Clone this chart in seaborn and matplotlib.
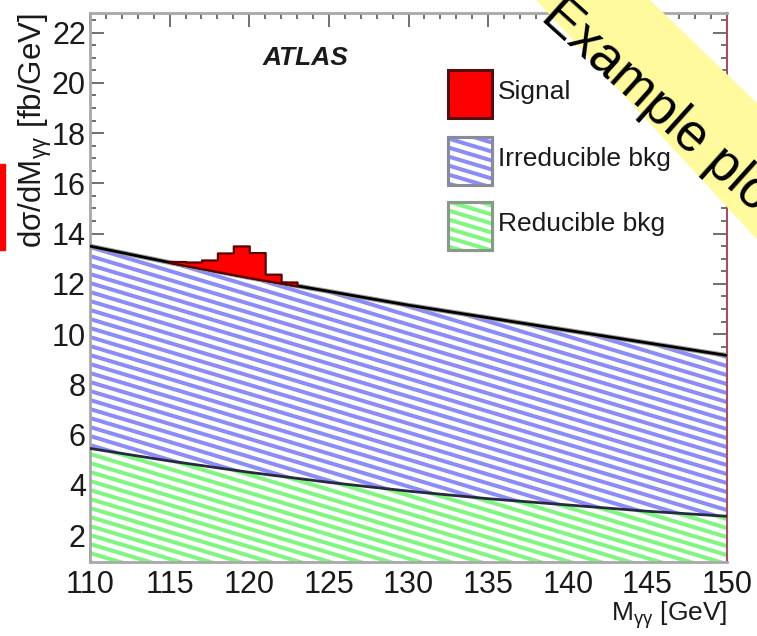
import numpy as np
import pandas as pd
import matplotlib
matplotlib.use("Agg")
import matplotlib.pyplot as plt
import seaborn as sns
from matplotlib.collections import LineCollection
from matplotlib.patches import Rectangle, Polygon
from matplotlib.ticker import MultipleLocator
from matplotlib import font_manager as fm
import matplotlib.patheffects as pe

# ---------------- data ----------------
mass = [110, 115, 120, 125, 130, 135, 140, 145, 150]
reducible = [5.45, 4.95, 4.50, 4.10, 3.75, 3.45, 3.20, 2.95, 2.75]
irreducible = [8.05, 7.90, 7.75, 7.60, 7.40, 7.20, 6.95, 6.70, 6.40]
sig_edges = [115, 116, 117, 118, 119, 120, 121, 122, 123]
signal = [0.10, 0.20, 0.40, 0.80, 1.20, 1.05, 0.30, 0.10]
x_ticks = [110, 115, 120, 125, 130, 135, 140, 145, 150]
y_ticks = [2, 4, 6, 8, 10, 12, 14, 16, 18, 20, 22]
legend_labels = ["Signal", "Irreducible bkg", "Reducible bkg"]

# ---------------- style ----------------
sns.set_theme(style="ticks")
names = {f.name for f in fm.fontManager.ttflist}
NARROW = "Liberation Sans Narrow" if "Liberation Sans Narrow" in names else "Liberation Sans"
REG = "Liberation Sans"
plt.rcParams["font.family"] = [REG, "DejaVu Sans"]
plt.rcParams["mathtext.fontset"] = "custom"
plt.rcParams["mathtext.rm"] = REG
plt.rcParams["mathtext.it"] = REG + ":italic"

df = pd.DataFrame({"mass": mass, "red": reducible, "irr": irreducible})
df["total"] = df["red"] + df["irr"]

FW, FH = 757.0, 636.0
fig = plt.figure(figsize=(7.57, 6.36), dpi=100)
fig.patch.set_facecolor("white")
ax = fig.add_axes([90 / FW, 1 - 562 / FH, 637 / FW, 549 / FH])
ax.set_facecolor("white")

W, H = 637.0, 549.0


def add_stripes(ax, color, clip, clip_tr=None, period=9.0, slope=0.30, lw_px=4.0, z=2):
    segs = []
    c = -2 * H
    while c < H + slope * W + 2 * H:
        segs.append([(0.0, c / H), (1.0, (c - slope * W) / H)])
        c += period
    lc = LineCollection(segs, colors=color, linewidths=lw_px * 0.72,
                        transform=ax.transAxes, zorder=z)
    ax.add_collection(lc)
    if clip_tr is None:
        lc.set_clip_path(clip)
    else:
        lc.set_clip_path(clip, clip_tr)
    return lc


# reducible background
p_red = ax.fill_between(df["mass"], 0, df["red"], facecolor="white", edgecolor="none", zorder=1)
add_stripes(ax, "#80f580", p_red.get_paths()[0], p_red.get_transform())
# irreducible background
p_irr = ax.fill_between(df["mass"], df["red"], df["total"], facecolor="white", edgecolor="none", zorder=1)
add_stripes(ax, "#8c8cf8", p_irr.get_paths()[0], p_irr.get_transform())

# boundary lines
sns.lineplot(data=df, x="mass", y="red", ax=ax, color="#262a40", lw=2.0, zorder=3)
sns.lineplot(data=df, x="mass", y="total", ax=ax, color="black", lw=2.0, zorder=3,
             path_effects=[pe.Stroke(linewidth=3.5, foreground="#9a9a9a"), pe.Normal()])

# signal stacked on top of total background
edges = np.array(sig_edges, dtype=float)
centers = 0.5 * (edges[:-1] + edges[1:])
base_c = np.interp(centers, df["mass"], df["total"])
xs, lo, hi = [], [], []
for i, s in enumerate(signal):
    for e in (edges[i], edges[i + 1]):
        xs.append(e)
        lo.append(np.interp(e, df["mass"], df["total"]))
        hi.append(base_c[i] + s)
ax.fill_between(xs, lo, hi, facecolor="#ff0000", edgecolor="#5a0000", lw=1.6, zorder=4)

# axes
ax.set_xlim(110, 150)
ax.set_ylim(0.93, 22.78)
ax.set_xticks(x_ticks)
ax.set_yticks(y_ticks)
ax.xaxis.set_minor_locator(MultipleLocator(1))
ax.yaxis.set_minor_locator(MultipleLocator(0.5))
ax.tick_params(which="both", direction="in", top=True, right=True, color="#707070", width=1.4)
ax.tick_params(which="major", length=10)
ax.tick_params(which="minor", length=4.5)
ax.tick_params(axis="x", pad=6)
ax.tick_params(axis="y", pad=3)
for lab in ax.get_xticklabels() + ax.get_yticklabels():
    lab.set_fontfamily(NARROW)
    lab.set_fontsize(22)
    lab.set_color("#1a1a1a")
for s in ("left", "top", "bottom"):
    ax.spines[s].set_color("#a8a8a8")
    ax.spines[s].set_linewidth(2.0)
ax.spines["right"].set_color("#a05060")
ax.spines["right"].set_linewidth(1.5)

ax.set_xlabel(r"M$_{\mathrm{\gamma\gamma}}$ [GeV]", loc="right", fontsize=19, color="#1a1a1a")
ax.set_ylabel(r"d$\mathrm{\sigma}$/dM$_{\mathrm{\gamma\gamma}}$ [fb/GeV]", loc="top",
              fontsize=22.5, color="#1a1a1a")
ax.yaxis.set_label_coords(-0.056, 1.0)
ax.xaxis.set_label_coords(1.0, -0.068)

# ATLAS label
ax.text(0.3375, 0.918, "ATLAS", transform=ax.transAxes, ha="center", va="center",
        fontsize=19, fontweight="bold", fontstyle="italic", color="#1a1a1a", zorder=6)

# legend (manual, striped boxes)
bx, bw = (448 - 90) / W, 44 / W
boxes = [(70, 118), (137, 185), (202, 250)]
face = ["#ff0000", "white", "white"]
edgec = ["#501010", "#8a8a9a", "#8a9a8a"]
stripe = [None, "#8c8cf8", "#80f580"]
for (t, b), lab, fc, ec, sc in zip(boxes, legend_labels, face, edgec, stripe):
    y0 = 1 - (b - 13) / H
    hh = (b - t) / H
    r = Rectangle((bx, y0), bw, hh, transform=ax.transAxes, facecolor=fc,
                  edgecolor=ec, lw=2.2, zorder=6)
    ax.add_patch(r)
    if sc is not None:
        add_stripes(ax, sc, r, z=6)
        ax.add_patch(Rectangle((bx, y0), bw, hh, transform=ax.transAxes, facecolor="none",
                               edgecolor=ec, lw=2.2, zorder=7))
    ax.text((498 - 90) / W, y0 + hh / 2 + 0.004, lab, transform=ax.transAxes, ha="left",
            va="center", fontsize=19, family=NARROW, color="#1a1a1a", zorder=7)

# banner (diagonal ribbon) and side mark, in figure pixels
band_px = [(536, 0), (650, 0), (FW + 5, 108), (FW + 5, 245)]
band = Polygon([(x / FW, 1 - y / FH) for x, y in band_px], closed=True,
               transform=fig.transFigure, facecolor="#fffa9e", edgecolor="none", zorder=19)
fig.patches.append(band)
fig.text(662 / FW, 1 - 110 / FH, "Example plot", rotation=-42, rotation_mode="anchor",
         ha="center", va="center", fontsize=38, family=REG, color="black", zorder=20)
fig.patches.append(Rectangle((0, 1 - 250 / FH), 5 / FW, 86 / FH,
                             transform=fig.transFigure, color="#ff0000", zorder=20))

fig.savefig("out.png", dpi=100, facecolor="white")
